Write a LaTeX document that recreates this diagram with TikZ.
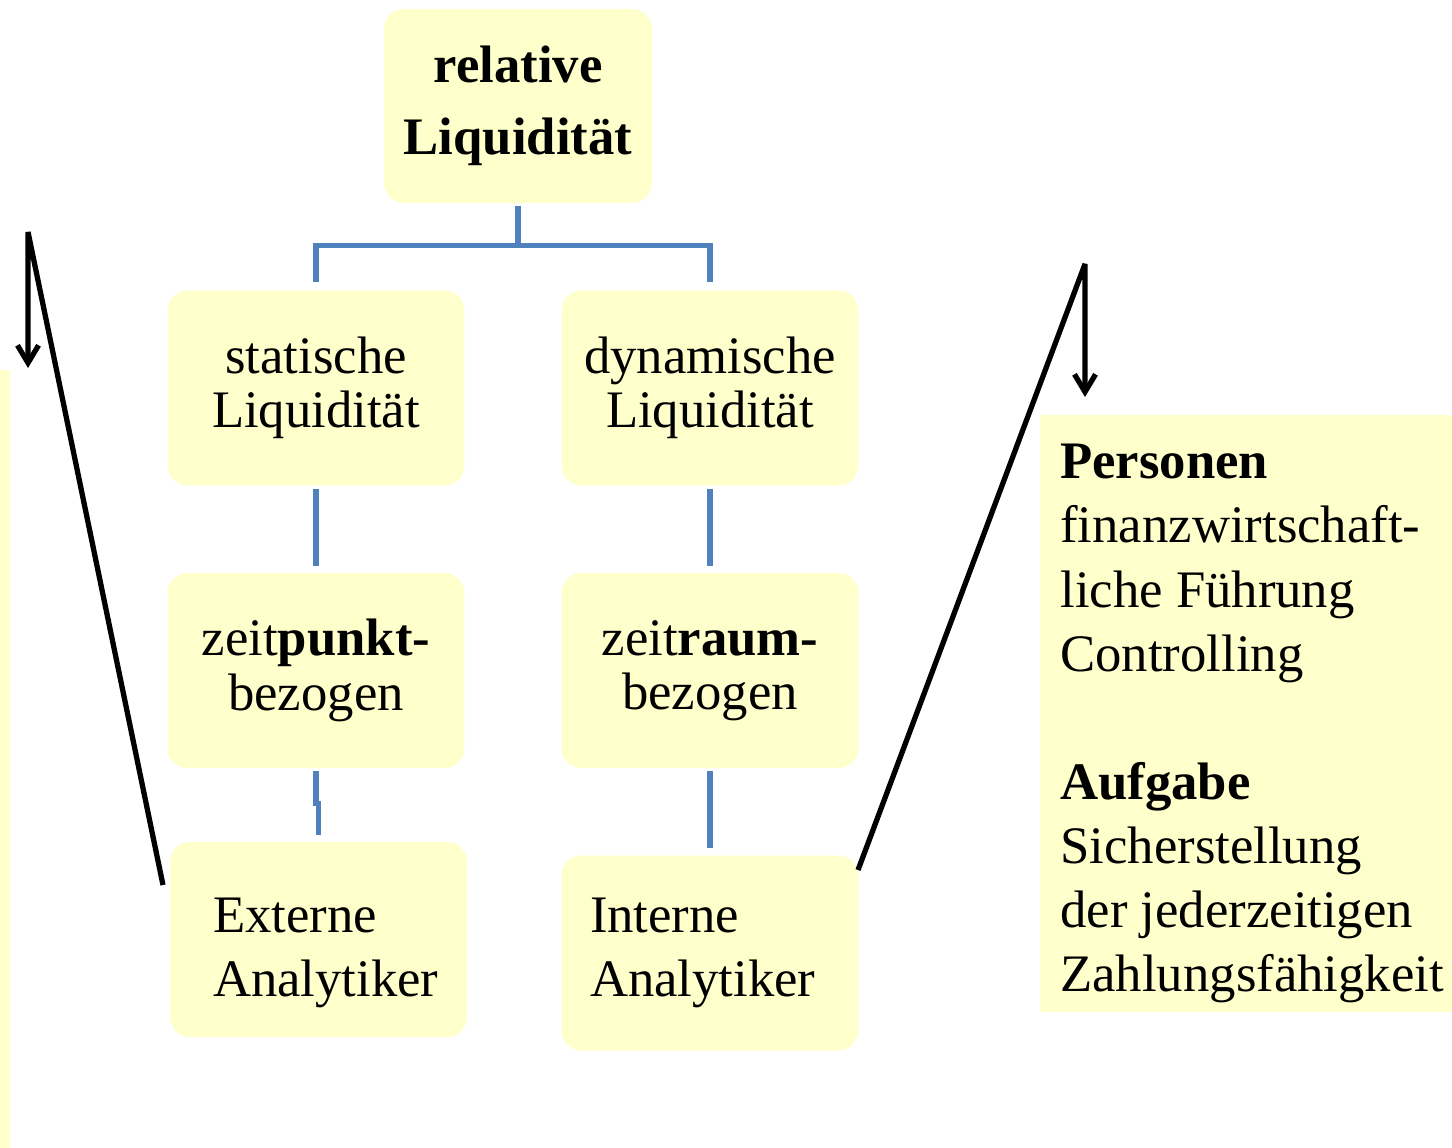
\documentclass[tikz,border=0pt]{standalone}
\usepackage{fontspec}
\setmainfont{Liberation Serif}
\usetikzlibrary{arrows.meta}
\definecolor{boxyellow}{HTML}{FFFFCC}
\definecolor{linkblue}{HTML}{4F81BD}
\tikzset{
	kasten/.style={fill=boxyellow, rounded corners=0.4cm, minimum width=5.94cm, minimum height=3.9cm, align=center, font=\fontsize{30}{31}\selectfont},
	leser/.style={kasten, align=flush left, font=\fontsize{30}{36}\selectfont},
	link/.style={draw=linkblue, line width=3.2pt, shorten <=1.7pt, shorten >=4pt},
	zeiger/.style={draw=black, line width=3pt, line join=bevel, -{Straight Barb[length=10pt, width=12pt]}}
}

\begin{document}
\begin{tikzpicture}[x=0.02cm, y=-0.02cm]
			%%%%% START %%%%%
			\useasboundingbox (0,0) rectangle (1452,1148);
			
			\fill[boxyellow] (0,370) rectangle (10,1148);
			
			\node[kasten, minimum width=5.36cm, minimum height=3.88cm, font=\fontsize{30}{41}\selectfont\bfseries] (rel) at (518,106) {relative\\Liquidität};
			
			\node[kasten] (stat) at (316,388) {statische\\Liquidität};
			\node[kasten] (dyn) at (710,388) {dynamische\\Liquidität};
			
			\node[kasten] (zpkt) at (316,670.5) {zeit\textbf{punkt-}\\bezogen};
			\node[kasten] (zraum) at (710,670.5) {zeit\textbf{raum-}\\bezogen};
			
			\node[leser, inner xsep=0.86cm, text width=4.22cm, text height=35pt] (ext) at (318.5,939.5) {Externe\\Analytiker};
			\node[leser, inner xsep=0.56cm, text width=4.8cm] (int) at (710,953) {Interne\\Analytiker};
			
			\node[fill=boxyellow, anchor=north west, inner xsep=0.4cm, text width=7.44cm, text height=31pt, minimum height=11.94cm, align=flush left, font=\fontsize{30}{36.5}\selectfont] (info) at (1040,415) {\textbf{Personen}\\finanzwirtschaft-\\liche Führung\\Controlling\\[36.5pt]\textbf{Aufgabe}\\Sicherstellung\\der jederzeitigen\\Zahlungsfähigkeit};
			
			\draw[link, shorten >=4.5pt] (rel.south) -- ++(0,42) -| (stat.north);
			\draw[link, shorten >=4.5pt] (rel.south) -- ++(0,42) -| (dyn.north);
			\draw[link] (stat) -- (zpkt);
			\draw[link] (dyn) -- (zraum);
			\draw[link] (zpkt.south) -- ++(0,35) -| (ext.north);
			\draw[link] (zraum) -- (int);
			
			\coordinate (extend) at (163,885);
			\coordinate (lefttop) at (28,232);
			\coordinate (intend) at (858,870);
			\coordinate (righttop) at (1085,264);
			\draw[zeiger] (extend) -- (lefttop) -- ++(0,136);
			\draw[zeiger] (intend) -- (righttop) -- ++(0,133);
			
			%%%%% END %%%%%
\end{tikzpicture}
\end{document}
